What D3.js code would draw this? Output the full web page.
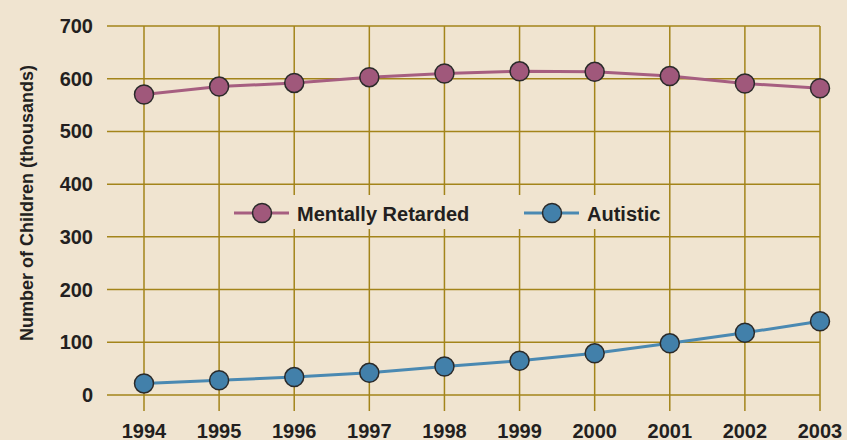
<!DOCTYPE html>
<html>
<head>
<meta charset="utf-8">
<script src="https://cdn.jsdelivr.net/npm/d3@7"></script>
<style>
  html, body { margin: 0; padding: 0; background: #f0e4d0; }
  svg { display: block; }
  text { font-family: "Liberation Sans", Arial, sans-serif; font-weight: bold; fill: #231f20; }
</style>
</head>
<body>
<svg id="chart"></svg>
<script>
const years = [1994, 1995, 1996, 1997, 1998, 1999, 2000, 2001, 2002, 2003];
const retarded = [570, 585, 592, 603, 610, 614, 613, 605, 591, 582];
const autistic = [22, 28, 34, 42, 54, 65, 79, 98, 118, 140];
const yTicks = [0, 100, 200, 300, 400, 500, 600, 700];
const seriesNames = ["Mentally Retarded", "Autistic"];

const width = 847;
const height = 440;

const svg = d3.select("#chart")
  .attr("width", width)
  .attr("height", height);

svg.append("rect")
  .attr("width", width)
  .attr("height", height)
  .attr("fill", "#f0e4d0");

const x = d3.scalePoint().domain(years).range([144, 820]);
const y = d3.scaleLinear().domain([0, 700]).range([395, 26]);

const gridColor = "#a3841a";

// horizontal grid
svg.append("g")
  .selectAll("line")
  .data(yTicks)
  .join("line")
  .attr("x1", 107)
  .attr("x2", 820)
  .attr("y1", (d) => y(d))
  .attr("y2", (d) => y(d))
  .attr("stroke", gridColor)
  .attr("stroke-width", 1.5);

// vertical grid
svg.append("g")
  .selectAll("line")
  .data(years)
  .join("line")
  .attr("x1", (d) => x(d))
  .attr("x2", (d) => x(d))
  .attr("y1", y(700))
  .attr("y2", 411)
  .attr("stroke", gridColor)
  .attr("stroke-width", 1.5);

// y tick labels
svg.append("g")
  .selectAll("text")
  .data(yTicks)
  .join("text")
  .attr("x", 93)
  .attr("y", (d) => y(d) + 7)
  .attr("text-anchor", "end")
  .style("font-size", "20px")
  .text((d) => d);

// x tick labels
svg.append("g")
  .selectAll("text")
  .data(years)
  .join("text")
  .attr("x", (d) => x(d))
  .attr("y", 438)
  .attr("text-anchor", "middle")
  .style("font-size", "20px")
  .text((d) => d);

// y axis title
svg.append("text")
  .attr("transform", "translate(33, 203) rotate(-90)")
  .attr("text-anchor", "middle")
  .style("font-size", "18px")
  .text("Number of Children (thousands)");

const series = [
  { name: seriesNames[0], values: retarded, line: "#a65e80", fill: "#a0587b" },
  { name: seriesNames[1], values: autistic, line: "#4a89b2", fill: "#4280aa" }
];

const line = d3.line()
  .x((d, i) => x(years[i]))
  .y((d) => y(d));

series.forEach((s) => {
  svg.append("path")
    .datum(s.values)
    .attr("d", line)
    .attr("fill", "none")
    .attr("stroke", s.line)
    .attr("stroke-width", 3);

  svg.append("g")
    .selectAll("circle")
    .data(s.values)
    .join("circle")
    .attr("cx", (d, i) => x(years[i]))
    .attr("cy", (d) => y(d))
    .attr("r", 9.5)
    .attr("fill", s.fill)
    .attr("stroke", "#2a2a2a")
    .attr("stroke-width", 1.5);
});

// legend
const legend = svg.append("g");
legend.append("rect")
  .attr("x", 225)
  .attr("y", 195)
  .attr("width", 440)
  .attr("height", 34)
  .attr("fill", "#f0e4d0");

const legendPos = [234, 524];
const legendItems = legend.selectAll("g.item")
  .data(series)
  .join("g")
  .attr("class", "item")
  .attr("transform", (d, i) => `translate(${legendPos[i]}, 213)`);

legendItems.append("line")
  .attr("x1", 0)
  .attr("x2", 55)
  .attr("stroke", (d) => d.line)
  .attr("stroke-width", 3);

legendItems.append("circle")
  .attr("cx", 28)
  .attr("r", 9.5)
  .attr("fill", (d) => d.fill)
  .attr("stroke", "#2a2a2a")
  .attr("stroke-width", 1.5);

legendItems.append("text")
  .attr("x", 63)
  .attr("y", 8)
  .style("font-size", "20px")
  .text((d) => d.name);
</script>
</body>
</html>
